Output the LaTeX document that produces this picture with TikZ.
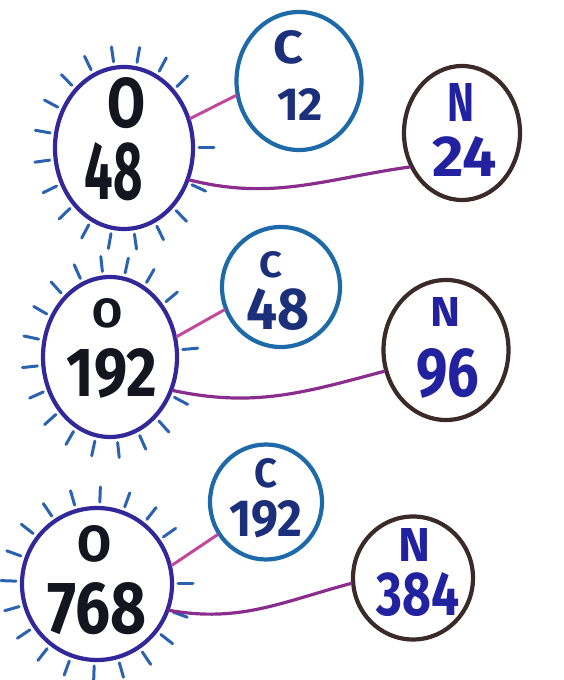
\documentclass[tikz,border=0pt]{standalone}
\usepackage{graphicx}
\usepackage{fontspec}
\setmainfont{Fira Sans}
\usetikzlibrary{shapes.geometric}
\definecolor{ocol}{HTML}{33289A}
\definecolor{raycol}{HTML}{2A62B0}
\definecolor{ccol}{HTML}{1E6AA8}
\definecolor{ncol}{HTML}{3A2A28}
\definecolor{otxt}{HTML}{15151F}
\definecolor{ctxt}{HTML}{1C2F7A}
\definecolor{ntxt}{HTML}{2222A0}
\definecolor{linkA}{HTML}{C2489C}
\definecolor{linkB}{HTML}{8A2E8E}
\newcommand{\hw}[3]{\resizebox{#1pt}{#2pt}{\bfseries #3}}
\newcommand{\raysround}[5]{%
  \foreach \a in {#5}
    \draw[ray] ({#1+(#3+6)*cos(\a)},{#2+(#4+6)*sin(\a)}) -- ({#1+(#3+21)*cos(\a)},{#2+(#4+21)*sin(\a)});}
\tikzset{
  ocirc/.style={ellipse, draw=ocol, line width=4.2pt, inner sep=0pt},
  ccirc/.style={ellipse, draw=ccol, line width=4.2pt, inner sep=0pt},
  ncirc/.style={ellipse, draw=ncol, line width=4.2pt, inner sep=0pt},
  olbl/.style={inner sep=0pt, text=otxt, align=center},
  clbl/.style={inner sep=0pt, text=ctxt, align=center},
  nlbl/.style={inner sep=0pt, text=ntxt, align=center},
  ray/.style={draw=raycol, line width=3pt, line cap=round},
  linkc/.style={draw=linkA, line width=3pt, line cap=round},
  linkn/.style={draw=linkB, line width=3.2pt, line cap=round},
}
\begin{document}
\begin{tikzpicture}[x=1pt,y=1pt]
\useasboundingbox (0,0) rectangle (564,680);
% ---------- group 1 ----------
\raysround{124}{532}{69}{81}{0,45,62,80,98,116,134,152,170,188,206,224,242,260,278,296,314,335}
\node[ocirc, minimum width=138pt, minimum height=162pt] (o1) at (124,532) {};
\node[ccirc, minimum width=125pt, minimum height=138pt] (c1) at (299,599) {};
\node[ncirc, minimum width=116pt, minimum height=134pt] (n1) at (462,547) {};
\node[olbl] (o1t) at (114,540.75) {\hspace*{26pt}\hw{38}{50}{O}\\[12.5pt]\hw{58}{57}{48}};
\node[clbl] (c1t) at (300,604.75) {\hw{30}{33}{C}\hspace*{24pt}\\[23.5pt]\hw{46}{32}{12}};
\node[nlbl] (n1t) at (465,550) {\hw{27}{38}{N}\hspace*{8pt}\\[14pt]\hw{64}{40}{24}};
\draw[linkc] (o1.24) -- (c1.193);
\draw[linkn] (o1.-26) to[out=-14,in=188] (n1.213);
% ---------- group 2 ----------
\raysround{110}{323}{67}{80}{5,40,60,78,96,114,132,150,168,186,204,222,240,258,276,294,312,332}
\node[ocirc, minimum width=134pt, minimum height=160pt] (o2) at (110,323) {};
\node[ccirc, minimum width=118pt, minimum height=120pt] (c2) at (281,393) {};
\node[ncirc, minimum width=125pt, minimum height=140pt] (n2) at (446,330) {};
\node[olbl] (o2t) at (112,331.75) {\hw{30}{29}{O}\hspace*{8pt}\\[19.5pt]\hw{90}{48}{192}};
\node[clbl] (c2t) at (278,389.25) {\hw{23}{26}{C}\hspace*{14pt}\\[9.5pt]\hw{63}{41}{48}};
\node[nlbl] (n2t) at (448,332.25) {\hw{30}{29}{N}\hspace*{6pt}\\[20.5pt]\hw{63}{48}{96}};
\draw[linkc] (o2.17) -- (c2.202);
\draw[linkn] (o2.-28) to[out=-12,in=195] (n2.199);
% ---------- group 3 ----------
\raysround{97}{96}{75}{76}{0,35,52,70,88,106,124,142,160,178,196,214,232,250,268,286,304,322,340}
\node[ocirc, minimum width=150pt, minimum height=152pt] (o3) at (97,96) {};
\node[ccirc, minimum width=112pt, minimum height=115pt] (c3) at (266,178) {};
\node[ncirc, minimum width=120pt, minimum height=123pt] (n3) at (413,102) {};
\node[olbl] (o3t) at (97,99.75) {\hw{34}{36}{O}\hspace*{4pt}\\[18.5pt]\hw{99}{51}{768}};
\node[clbl] (c3t) at (266,181.75) {\hw{23}{29}{C}\\[11pt]\hw{73}{36}{192}};
\node[nlbl] (n3t) at (418,107.5) {\hw{32}{33}{N}\hspace*{8pt}\\[10.5pt]\hw{83}{43}{384}};
\draw[linkc] (o3.14) -- (c3.214);
\draw[linkn] (o3.-20) to[out=-10,in=195] (n3.185);
\end{tikzpicture}
\end{document}
